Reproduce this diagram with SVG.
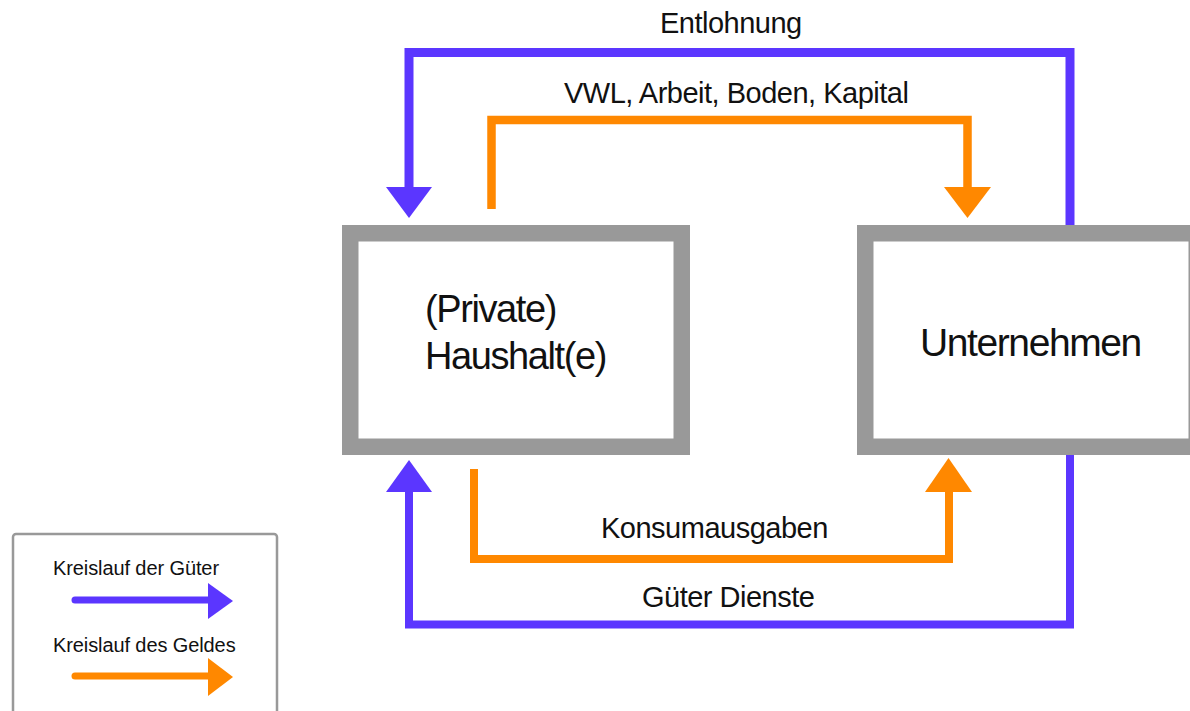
<svg xmlns="http://www.w3.org/2000/svg" width="1190" height="711" viewBox="0 0 1190 711">
  <style>
    .box { fill: #ffffff; stroke: #999999; stroke-width: 16.5; }
    .node-text { font-family: "Liberation Sans", Arial, sans-serif; font-size: 38px; letter-spacing: -1.4px; fill: #111111; }
    .label { font-family: "Liberation Sans", Arial, sans-serif; font-size: 29px; letter-spacing: -0.5px; fill: #111111; }
    .legend-text { font-family: "Liberation Sans", Arial, sans-serif; font-size: 20px; letter-spacing: -0.1px; fill: #111111; }
    .blue { fill: none; stroke: #5b36ff; stroke-width: 9; }
    .orange { fill: none; stroke: #ff8800; stroke-width: 8.5; }
    .blue-head { fill: #5b36ff; }
    .orange-head { fill: #ff8800; }
  </style>
  <rect width="1190" height="711" fill="#ffffff"/>

  <g id="connectors">
    <!-- Entlohnung (blue, top) -->
    <path class="blue" d="M1070 225 V52.5 H409 V192"/>
    <polygon class="blue-head" points="386,187 432,187 409,218"/>
    <!-- VWL, Arbeit, Boden, Kapital (orange, top) -->
    <path class="orange" d="M491.5 209 V120 H967.5 V192"/>
    <polygon class="orange-head" points="944,187 991,187 967.5,218"/>
    <!-- Konsumausgaben (orange, bottom) -->
    <path class="orange" style="stroke-width:8" d="M474 469 V559 H949 V488"/>
    <polygon class="orange-head" points="925,492 972,492 948.5,458"/>
    <!-- Güter Dienste (blue, bottom) -->
    <path class="blue" style="stroke-width:8" d="M1070 453 V624.5 H409 V488"/>
    <polygon class="blue-head" points="386,492 432,492 409,460"/>
  </g>

  <g id="labels">
    <text class="label" x="660" y="33">Entlohnung</text>
    <text class="label" x="564" y="103">VWL, Arbeit, Boden, Kapital</text>
    <text class="label" x="601" y="538">Konsumausgaben</text>
    <text class="label" x="642" y="607">Güter Dienste</text>
  </g>

  <g id="haushalte">
    <rect class="box" x="350.25" y="233.25" width="331.5" height="213.5"/>
    <text class="node-text" x="425" y="322">(Private)</text>
    <text class="node-text" x="425" y="369">Haushalt(e)</text>
  </g>

  <g id="unternehmen">
    <rect class="box" x="865.25" y="233.25" width="331.5" height="213.5"/>
    <text class="node-text" style="font-size:39px" x="920" y="356">Unternehmen</text>
  </g>

  <g id="legend">
    <rect x="13" y="534" width="264" height="200" rx="3" fill="#ffffff" stroke="#999999" stroke-width="2.5"/>
    <text class="legend-text" x="53" y="575">Kreislauf der Güter</text>
    <line x1="75" y1="600" x2="212" y2="600" stroke="#5b36ff" stroke-width="7" stroke-linecap="round"/>
    <polygon class="blue-head" points="208,583 233,601 208,619"/>
    <text class="legend-text" x="53" y="652">Kreislauf des Geldes</text>
    <line x1="75" y1="676" x2="212" y2="676" stroke="#ff8800" stroke-width="7" stroke-linecap="round"/>
    <polygon class="orange-head" points="208,658 233,677 208,696"/>
  </g>
</svg>
